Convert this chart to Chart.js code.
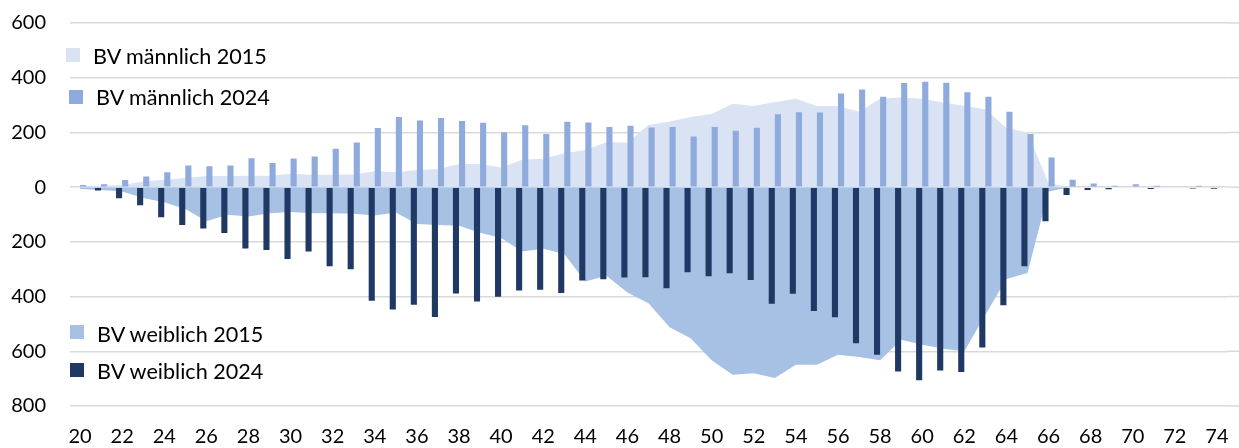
<!DOCTYPE html>
<html>
<head>
<meta charset="utf-8">
<script src="https://cdn.jsdelivr.net/npm/chart.js@4.4.1/dist/chart.umd.min.js"></script>
<style>
    body { margin: 0; background: #fff; }
    #wrapper { position: relative; width: 1239px; height: 448px; }
    .leg { position: absolute; font: 21.6px Lato, sans-serif; line-height: 26px; color: #000; white-space: nowrap; }
    .box { position: absolute; width: 14px; height: 14px; }
</style>
</head>
<body>
<div id="wrapper">
    <canvas id="chart" width="1239" height="448"></canvas>
</div>
<script>
// Ages on the x axis
const ages = [];
for (let a = 20; a <= 74; a++) ages.push(String(a));

// BV männlich 2015 (area, above zero)
const male2015 = [
    5, 5, 8, 21, 27, 33, 41, 41, 42, 42,
    49, 45, 45, 46, 58, 54, 63, 66, 85, 85,
    72, 100, 104, 124, 136, 164, 163, 227, 240, 256,
    267, 305, 297, 311, 323, 297, 297, 276, 323, 328,
    323, 309, 297, 285, 216, 200, 15, 0, 0, 0,
    0, 0, 0, 0, 0
];

// BV männlich 2024 (bars, above zero)
const male2024 = [
    8, 11, 26, 39, 54, 79, 76, 79, 106, 88,
    105, 112, 140, 163, 216, 256, 244, 253, 242, 235,
    201, 226, 194, 239, 236, 220, 224, 218, 220, 185,
    220, 206, 217, 266, 274, 273, 342, 357, 330, 381,
    385, 382, 347, 330, 276, 194, 108, 27, 13, 5,
    11, 5, 0, 5, 0
];

// BV weiblich 2015 (area, below zero)
const female2015 = [
    -7, -10, -16, -40, -55, -80, -125, -101, -107, -95,
    -91, -95, -95, -97, -104, -93, -135, -138, -141, -167,
    -186, -235, -225, -244, -345, -324, -385, -424, -512, -552,
    -633, -686, -680, -698, -649, -649, -613, -621, -633, -558,
    -576, -591, -600, -466, -336, -314, -16, 0, 0, 0,
    0, 0, 0, 0, 0
];

// BV weiblich 2024 (bars, below zero)
const female2024 = [
    -3, -12, -41, -66, -110, -138, -151, -168, -224, -230,
    -263, -235, -289, -300, -415, -447, -430, -475, -389, -418,
    -401, -378, -375, -387, -341, -337, -330, -329, -370, -311,
    -326, -315, -339, -426, -390, -453, -476, -571, -613, -674,
    -706, -670, -676, -586, -432, -289, -125, -29, -10, -8,
    0, -7, 0, -5, -6
];

const yTicks = [-800, -600, -400, -200, 0, 200, 400, 600];

const colors = {
    male2015: '#dae3f3',
    male2024: '#8faadc',
    female2015: '#a6c1e4',
    female2024: '#203864'
};

// Legend, split in two groups like the original
const legendItems = [
    { text: 'BV männlich 2015', color: colors.male2015, box: [66, 48], label: [93, 43] },
    { text: 'BV männlich 2024', color: colors.male2024, box: [69, 90], label: [96, 84] },
    { text: 'BV weiblich 2015', color: colors.female2015, box: [70, 325], label: [97, 321] },
    { text: 'BV weiblich 2024', color: colors.female2024, box: [70, 363], label: [97, 358] }
];

function createLegend() {
    let wrapper = document.getElementById('wrapper');
    for (let i = 0; i < legendItems.length; i++) {
        let item = legendItems[i];
        let box = document.createElement('div');
        box.className = 'box';
        box.style.left = item.box[0] + 'px';
        box.style.top = item.box[1] + 'px';
        box.style.background = item.color;
        wrapper.appendChild(box);

        let label = document.createElement('div');
        label.className = 'leg';
        label.style.left = item.label[0] + 'px';
        label.style.top = item.label[1] + 'px';
        label.textContent = item.text;
        wrapper.appendChild(label);
    }
}

// Gridlines in Excel run on to the right edge of the picture
const gridExtend = {
    id: 'gridExtend',
    beforeDatasetsDraw: function(chart) {
        let ctx = chart.ctx;
        let y = chart.scales.y;
        ctx.save();
        ctx.strokeStyle = '#d9d9d9';
        ctx.lineWidth = 1.5;
        for (let i = 0; i < yTicks.length; i++) {
            let py = y.getPixelForValue(yTicks[i]);
            ctx.beginPath();
            ctx.moveTo(chart.chartArea.right, py);
            ctx.lineTo(chart.width, py);
            ctx.stroke();
        }
        ctx.restore();
    }
};

const tickFont = { family: 'Lato', size: 20 };

let ctx = document.getElementById('chart').getContext('2d');
let chart = new Chart(ctx, {
    data: {
        labels: ages,
        datasets: [
            {
                type: 'bar',
                label: 'BV weiblich 2024',
                data: female2024,
                backgroundColor: colors.female2024,
                barPercentage: 1.0,
                categoryPercentage: 0.58,
                order: 1
            },
            {
                type: 'bar',
                label: 'BV männlich 2024',
                data: male2024,
                backgroundColor: colors.male2024,
                barPercentage: 1.0,
                categoryPercentage: 0.58,
                order: 1
            },
            {
                type: 'line',
                label: 'BV männlich 2015',
                data: male2015,
                backgroundColor: colors.male2015,
                borderWidth: 0,
                pointRadius: 0,
                tension: 0,
                fill: 'origin',
                order: 2
            },
            {
                type: 'line',
                label: 'BV weiblich 2015',
                data: female2015,
                backgroundColor: colors.female2015,
                borderWidth: 0,
                pointRadius: 0,
                tension: 0,
                fill: 'origin',
                order: 2
            }
        ]
    },
    options: {
        responsive: false,
        animation: false,
        devicePixelRatio: 1,
        layout: { padding: { top: 23, right: 11.5, left: 0, bottom: 0 } },
        plugins: {
            legend: { display: false },
            tooltip: { enabled: false }
        },
        scales: {
            x: {
                offset: true,
                // invisible ticks only reserve the gap above the labels
                grid: { color: 'transparent', drawTicks: true, tickLength: 19, tickColor: 'transparent' },
                border: { display: false },
                afterFit: function(scale) { scale.height = 42; },
                ticks: {
                    autoSkip: false,
                    maxRotation: 0,
                    padding: 0,
                    color: '#000',
                    font: tickFont,
                    callback: function(value, index) {
                        return index % 2 === 0 ? ages[index] : '';
                    }
                }
            },
            y: {
                min: -800,
                max: 600,
                afterFit: function(scale) { scale.width = 69.5; },
                grid: { color: '#d9d9d9', lineWidth: 1.5, drawTicks: true, tickLength: 23.5, tickColor: 'transparent' },
                border: { display: false },
                ticks: {
                    stepSize: 200,
                    padding: 0,
                    color: '#000',
                    font: tickFont,
                    callback: function(value) { return Math.abs(value); }
                }
            }
        }
    },
    plugins: [gridExtend]
});

createLegend();
</script>
</body>
</html>
